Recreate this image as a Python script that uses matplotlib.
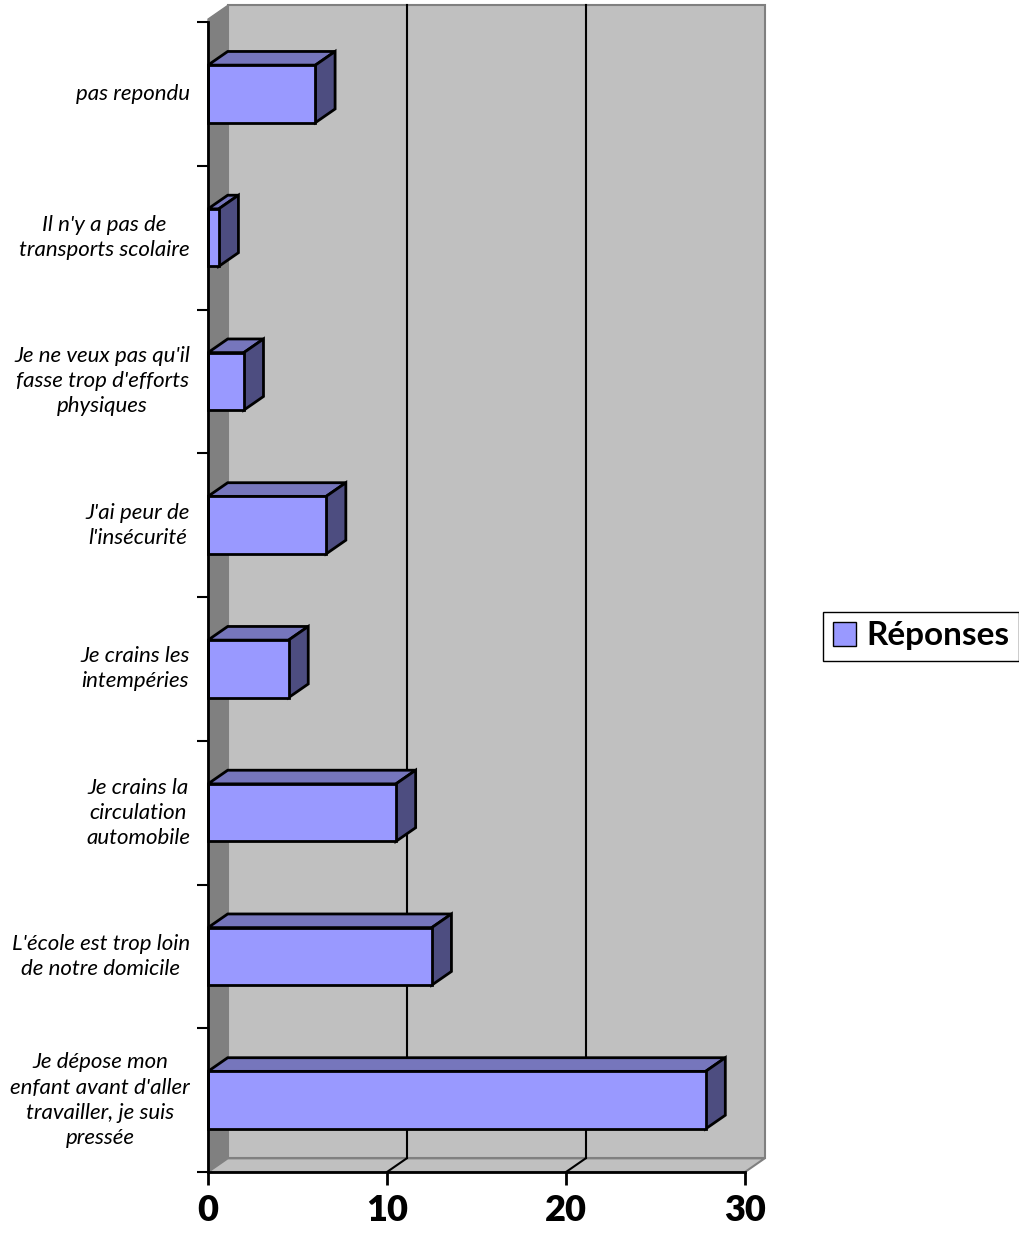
import matplotlib.pyplot as plt
from matplotlib.patches import Polygon, Patch

# data, bottom to top
categories = [
    "Je dépose mon\nenfant avant d'aller\ntravailler, je suis\npressée",
    "L'école est trop loin\nde notre domicile",
    "Je crains la\ncirculation\nautomobile",
    "Je crains les\nintempéries",
    "J'ai peur de\nl'insécurité",
    "Je ne veux pas qu'il\nfasse trop d'efforts\nphysiques",
    "Il n'y a pas de\ntransports scolaire",
    "pas repondu",
]
values = [27.8, 12.5, 10.5, 4.5, 6.6, 2.0, 0.6, 6.0]
x_ticks = [0, 10, 20, 30]
series_name = "Réponses"

FRONT = "#9999FF"
TOP = "#7676BC"
SIDE = "#4D4D80"
WALL = "#C0C0C0"
SIDE_WALL = "#808080"
FONT = ["Lato", "DejaVu Sans"]

fig = plt.figure(figsize=(10.19, 12.33), dpi=100)
ax = fig.add_axes([208 / 1019, 61 / 1233, 537 / 1019, 1150 / 1233])
ax.set_xlim(0, 30)
ax.set_ylim(-0.5, len(categories) - 0.5)
for s in ["top", "right"]:
    ax.spines[s].set_visible(False)
for s in ["left", "bottom"]:
    ax.spines[s].set_linewidth(2)
    ax.spines[s].set_zorder(7)
ax.patch.set_visible(False)

ax.set_xticks(x_ticks)
ax.set_xticklabels([str(t) for t in x_ticks], fontsize=26, fontweight="heavy", family=FONT)
ax.tick_params(axis="x", length=9, width=2, pad=7)
ax.set_yticks([k - 0.5 for k in range(len(categories) + 1)])
ax.set_yticklabels([])
ax.tick_params(axis="y", length=8, width=1.5)

dx, dy = 1.1, 0.095  # depth offset in data units
y0, y1 = -0.5, len(categories) - 0.5
xmax = x_ticks[-1]

def poly(pts, fc, ec, lw, z):
    ax.add_patch(Polygon(pts, closed=True, facecolor=fc, edgecolor=ec,
                         linewidth=lw, zorder=z, clip_on=False))

# back wall, side wall, floor
poly([(dx, y0 + dy), (xmax + dx, y0 + dy), (xmax + dx, y1 + dy + 0.02), (dx, y1 + dy + 0.02)],
     WALL, "#808080", 1.5, 1)
poly([(0, y0), (dx, y0 + dy), (dx, y1 + dy + 0.02), (0, y1 + 0.02)], SIDE_WALL, "#808080", 1, 1)
poly([(0, y0), (xmax, y0), (xmax + dx, y0 + dy), (dx, y0 + dy)], WALL, "#808080", 1.5, 1)

# gridlines on wall and floor
for t in x_ticks[1:-1]:
    ax.plot([t + dx, t + dx], [y0 + dy, y1 + dy + 0.02], color="black", lw=1.5, zorder=2, clip_on=False)
    ax.plot([t, t + dx], [y0, y0 + dy], color="black", lw=1.5, zorder=2, clip_on=False)

# bars
h = 0.2
for i in range(len(categories) - 1, -1, -1):
    v = values[i]
    b, t = i - h, i + h
    poly([(0, t), (v, t), (v + dx, t + dy), (dx, t + dy)], TOP, "black", 2, 5)
    poly([(v, b), (v + dx, b + dy), (v + dx, t + dy), (v, t)], SIDE, "black", 2, 5)
    poly([(0, b), (v, b), (v, t), (0, t)], FRONT, "black", 2, 6)

for i, lab in enumerate(categories):
    ax.annotate(lab, xy=(0, i), xytext=(-18, 0), textcoords="offset pixels",
                ha="right", va="center", multialignment="center", fontsize=16,
                style="italic", linespacing=1.32, family=FONT,
                annotation_clip=False)

fig.legend(handles=[Patch(facecolor=FRONT, edgecolor="black")], labels=[series_name],
           loc="center left", bbox_to_anchor=(806 / 1019, 1 - 636 / 1233),
           frameon=True, fancybox=False, edgecolor="black", framealpha=1,
           prop=dict(family=FONT, weight="bold", size=24),
           handlelength=0.7, handleheight=0.7, handletextpad=0.3, borderpad=0.3)

fig.savefig("out.png", dpi=100)
